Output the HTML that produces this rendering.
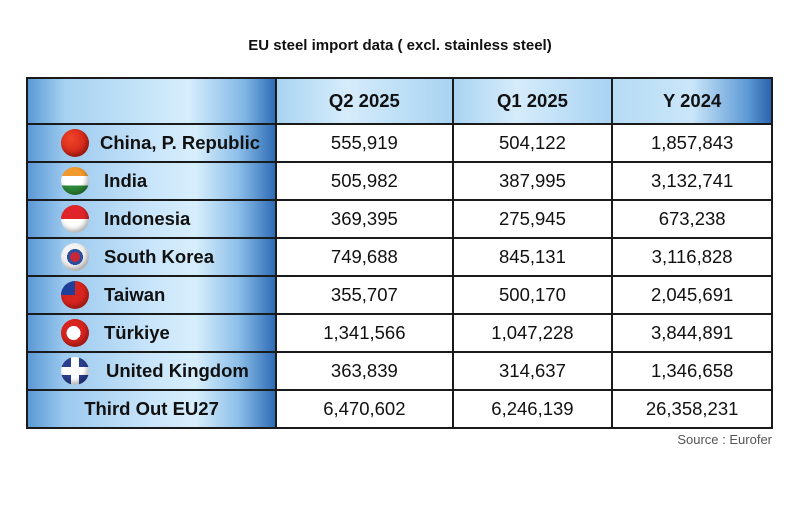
<!DOCTYPE html>
<html><head><style>
body{margin:0;width:800px;height:505px;background:#fff;font-family:"Liberation Sans",sans-serif;position:relative;overflow:hidden}
.t{position:absolute;left:0;top:37px;width:800px;text-align:center;font-weight:bold;font-size:15px;color:#111}
table{position:absolute;left:26px;top:77px;border-collapse:collapse;width:747px}
td{border:2px solid #1a1a1a;padding:0;font-size:18.5px;color:#111;text-align:center;height:36px}
tr.h td{height:44px;font-weight:bold;background:linear-gradient(90deg,#a9d4f2,#d6ecfb 40%,#a8d3f2);}
tr.h td.last{background:linear-gradient(90deg,#b5dbf5,#cbe6f9 50%,#5e9ad6 85%,#2b64ad)}
td.c{background:linear-gradient(90deg,#5b9ad6 0%,#9cc9ee 15%,#c9e5fa 50%,#d7eefc 68%,#8dbfe9 85%,#2e6db6 100%);font-weight:bold;text-align:left;position:relative}
td.c span{position:absolute;top:7px;font-size:18.5px}
.f{position:absolute;left:33px;top:4px;width:28px;height:28px;border-radius:50%;box-shadow:inset -2px -3px 5px rgba(0,0,0,.3)}
.src{position:absolute;right:28px;top:432px;font-size:13px;color:#555}
</style></head><body>
<div class="t">EU steel import data ( excl. stainless steel)</div>
<table>
<colgroup><col style="width:250px"><col style="width:177px"><col style="width:160px"><col style="width:160px"></colgroup>
<tr class="h"><td class="c" style="background:linear-gradient(90deg,#5b9ad6,#a7d2f1 15%,#d6eefc 65%,#7fb5e4 88%,#2e6db6)"></td><td>Q2 2025</td><td>Q1 2025</td><td class="last">Y 2024</td></tr>
<tr><td class="c"><div class="f" style="background:radial-gradient(circle at 35% 35%,#f0442a,#c2150f)"></div><span style="left:72px">China, P. Republic</span></td><td>555,919</td><td>504,122</td><td>1,857,843</td></tr>
<tr><td class="c"><div class="f" style="background:linear-gradient(#f39a2c 33%,#fff 33%,#fff 66%,#2e8a3a 66%)"></div><span style="left:76px">India</span></td><td>505,982</td><td>387,995</td><td>3,132,741</td></tr>
<tr><td class="c"><div class="f" style="background:linear-gradient(#e0252a 50%,#fff 50%)"></div><span style="left:76px">Indonesia</span></td><td>369,395</td><td>275,945</td><td>673,238</td></tr>
<tr><td class="c"><div class="f" style="background:radial-gradient(circle,#c8263a 0 5px,#2c4f9e 5px 8px,#f4f4f4 8px)"></div><span style="left:76px">South Korea</span></td><td>749,688</td><td>845,131</td><td>3,116,828</td></tr>
<tr><td class="c"><div class="f" style="background:linear-gradient(90deg,#1f3f9a 50%,transparent 50%) top left/100% 50% no-repeat,#d8241e"></div><span style="left:76px">Taiwan</span></td><td>355,707</td><td>500,170</td><td>2,045,691</td></tr>
<tr><td class="c"><div class="f" style="background:radial-gradient(circle at 45% 50%,#fff 0 7px,transparent 7px),#d8241e"></div><span style="left:76px">Türkiye</span></td><td>1,341,566</td><td>1,047,228</td><td>3,844,891</td></tr>
<tr><td class="c"><div class="f" style="background:linear-gradient(#fff,#fff) center/100% 8px no-repeat,linear-gradient(#fff,#fff) center/8px 100% no-repeat,#2b3f8f"></div><span style="left:78px">United Kingdom</span></td><td>363,839</td><td>314,637</td><td>1,346,658</td></tr>
<tr><td class="c" style="text-align:center"><b>Third Out EU27</b></td><td>6,470,602</td><td>6,246,139</td><td>26,358,231</td></tr>
</table>
<div class="src">Source : Eurofer</div>
</body></html>
